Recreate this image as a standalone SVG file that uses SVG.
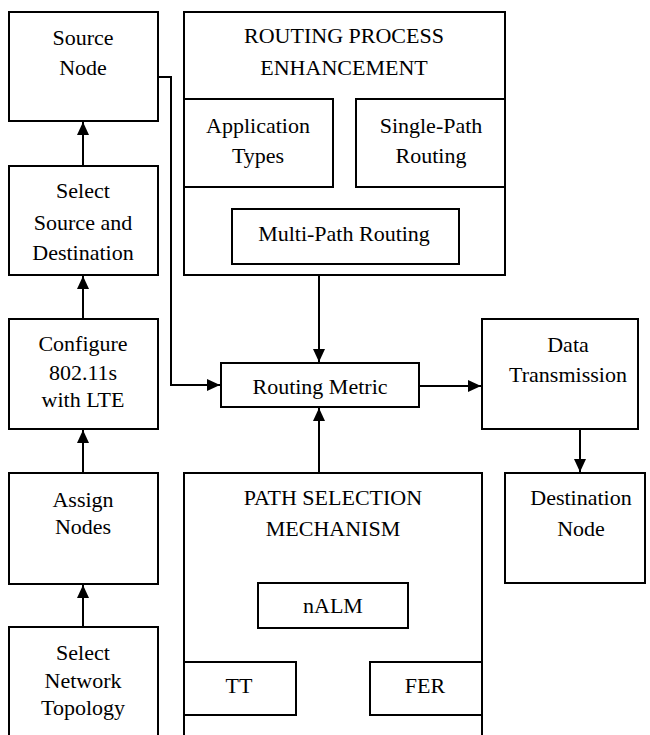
<svg xmlns="http://www.w3.org/2000/svg" width="650" height="735" viewBox="0 0 650 735">
<style>
.b{fill:#fff;stroke:#000;stroke-width:2}
.c{fill:none;stroke:#000;stroke-width:2}
.t text{font-size:22px;fill:#000;text-anchor:middle}
</style>
<defs>
<marker id="ah" markerUnits="userSpaceOnUse" markerWidth="13" markerHeight="12" refX="13" refY="6" orient="auto">
<path d="M0,0 L13,6 L0,12 z" fill="#000"/>
</marker>
</defs>
<rect width="650" height="735" fill="#fff"/>
<g class="t" font-family="'Liberation Serif', 'DejaVu Serif', serif">
<g id="source-node"><rect class="b" x="9" y="12" width="149" height="109"/><text x="83" y="44.5">Source</text><text x="83" y="74.5">Node</text></g>
<g id="select-source"><rect class="b" x="9" y="166" width="149" height="109"/><text x="83" y="197.5">Select</text><text x="83" y="229.5">Source and</text><text x="83" y="259.5">Destination</text></g>
<g id="configure"><rect class="b" x="9" y="319" width="149" height="110"/><text x="83" y="350.5">Configure</text><text x="83" y="379.5">802.11s</text><text x="83" y="406.5">with LTE</text></g>
<g id="assign"><rect class="b" x="9" y="473" width="149" height="111"/><text x="83" y="506.5">Assign</text><text x="83" y="533.5">Nodes</text></g>
<g id="select-topology"><rect class="b" x="9" y="627" width="149" height="120"/><text x="83" y="659.5">Select</text><text x="83" y="687.5">Network</text><text x="83" y="714.5">Topology</text></g>
<g id="routing-process"><rect class="b" x="184" y="12" width="321" height="263"/><text x="344" y="42.5">ROUTING PROCESS</text><text x="344" y="74.5">ENHANCEMENT</text></g>
<g id="application-types"><rect class="b" x="184" y="99" width="149" height="88"/><text x="258" y="132.5">Application</text><text x="258" y="162.5">Types</text></g>
<g id="single-path"><rect class="b" x="356" y="99" width="149" height="88"/><text x="431" y="132.5">Single-Path</text><text x="431" y="162.5">Routing</text></g>
<g id="multi-path"><rect class="b" x="232" y="209" width="227" height="55"/><text x="344" y="240.5">Multi-Path Routing</text></g>
<g id="routing-metric"><rect class="b" x="221" y="363" width="198" height="44"/><text x="320" y="393.5">Routing Metric</text></g>
<g id="data-transmission"><rect class="b" x="482" y="319" width="156" height="110"/><text x="568" y="351.5">Data</text><text x="568" y="381.5">Transmission</text></g>
<g id="destination-node"><rect class="b" x="505" y="473" width="140" height="110"/><text x="581" y="504.5">Destination</text><text x="581" y="535.5">Node</text></g>
<g id="path-selection"><rect class="b" x="184" y="473" width="298" height="280"/><text x="333" y="504.5">PATH SELECTION</text><text x="333" y="535.5">MECHANISM</text></g>
<g id="nalm"><rect class="b" x="258" y="583" width="150" height="45"/><text x="333" y="612.5">nALM</text></g>
<g id="tt"><rect class="b" x="184" y="662" width="112" height="53"/><text x="239" y="692.5">TT</text></g>
<g id="fer"><rect class="b" x="370" y="662" width="112" height="53"/><text x="425" y="693">FER</text></g>
</g>
<g id="connectors">
<line class="c" x1="83" y1="166" x2="83" y2="122" marker-end="url(#ah)"/>
<line class="c" x1="83" y1="319" x2="83" y2="276" marker-end="url(#ah)"/>
<line class="c" x1="83" y1="473" x2="83" y2="430" marker-end="url(#ah)"/>
<line class="c" x1="83" y1="627" x2="83" y2="585" marker-end="url(#ah)"/>
<polyline class="c" points="158,77 171,77 171,385 220,385" marker-end="url(#ah)"/>
<line class="c" x1="319" y1="275" x2="319" y2="362" marker-end="url(#ah)"/>
<line class="c" x1="319" y1="473" x2="319" y2="408" marker-end="url(#ah)"/>
<line class="c" x1="419" y1="386" x2="481" y2="386" marker-end="url(#ah)"/>
<line class="c" x1="580" y1="429" x2="580" y2="472" marker-end="url(#ah)"/>
</g>
</svg>
